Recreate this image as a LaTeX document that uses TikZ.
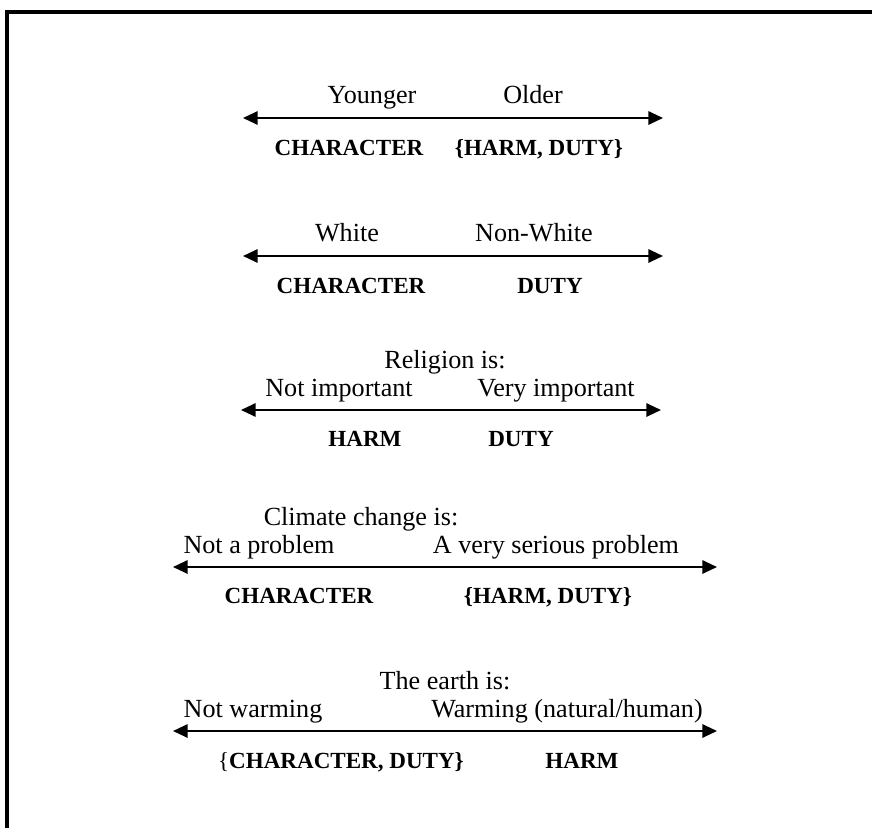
\documentclass[tikz,border=0pt]{standalone}
\usepackage{fontspec}
\setmainfont{Liberation Serif}
\usepackage{tikz}
\usetikzlibrary{arrows.meta, positioning}
\tikzset{
  lbl/.style={inner sep=0pt, anchor=base, font=\fontsize{19.6}{22}\selectfont},
  grp/.style={inner sep=0pt, anchor=base, font=\fontsize{17.3}{20}\selectfont\bfseries},
  head/.style={lbl},
  axisline/.style={{Triangle[length=11pt,width=10pt]}-{Triangle[length=11pt,width=10pt]}, line width=1.5pt},
  frame/.style={line width=3pt},
}
\begin{document}
\begin{tikzpicture}[x=0.75pt, y=-0.75pt]
  \useasboundingbox (0,0) rectangle (872,828);
  \draw[frame] (7,828) -- (7,11.5) -- (872,11.5);

  % age
  \node[lbl] (young)  at (372,103)  {Younger};
  \node[lbl] (old)    at (533,103)  {Older};
  \coordinate (ageL) at (243,118);
  \coordinate (ageR) at (663,118);
  \draw[axisline] (ageL) -- (ageR);
  \node[grp] (ageA) at (349,155) {CHARACTER};
  \node[grp] (ageB) at (539,155) {\{HARM, DUTY\}};

  % race
  \node[lbl] (white)  at (347,241) {White};
  \node[lbl] (nonw)   at (534,241) {Non-White};
  \coordinate (raceL) at (243,256);
  \coordinate (raceR) at (663,256);
  \draw[axisline] (raceL) -- (raceR);
  \node[grp] (raceA) at (351,293) {CHARACTER};
  \node[grp] (raceB) at (550,293) {DUTY};

  % religion
  \node[head] (relh) at (445,368) {Religion is:};
  \node[lbl] (notimp)  at (339,396) {Not important};
  \node[lbl] (veryimp) at (556,396) {Very important};
  \coordinate (relL) at (241,410);
  \coordinate (relR) at (661,410);
  \draw[axisline] (relL) -- (relR);
  \node[grp] (relA) at (365,446) {HARM};
  \node[grp] (relB) at (521,446) {DUTY};

  % climate change
  \node[head] (clih) at (361,525) {Climate change is:};
  \node[lbl] (noprob)  at (259,553) {Not a problem};
  \node[lbl] (serious) at (556,553) {A very serious problem};
  \coordinate (cliL) at (173,567);
  \coordinate (cliR) at (717,567);
  \draw[axisline] (cliL) -- (cliR);
  \node[grp] (cliA) at (299,603) {CHARACTER};
  \node[grp] (cliB) at (548,603) {\{HARM, DUTY\}};

  % warming
  \node[head] (earh) at (445,689) {The earth is:};
  \node[lbl] (notwarm) at (253,717) {Not warming};
  \node[lbl] (warm)    at (567,717) {Warming (natural/human)};
  \coordinate (earL) at (173,731);
  \coordinate (earR) at (717,731);
  \draw[axisline] (earL) -- (earR);
  \node[grp] (earA) at (341,768) {\mdseries\{\bfseries CHARACTER, DUTY\}};
  \node[grp] (earB) at (582,768) {HARM};
\end{tikzpicture}
\end{document}
